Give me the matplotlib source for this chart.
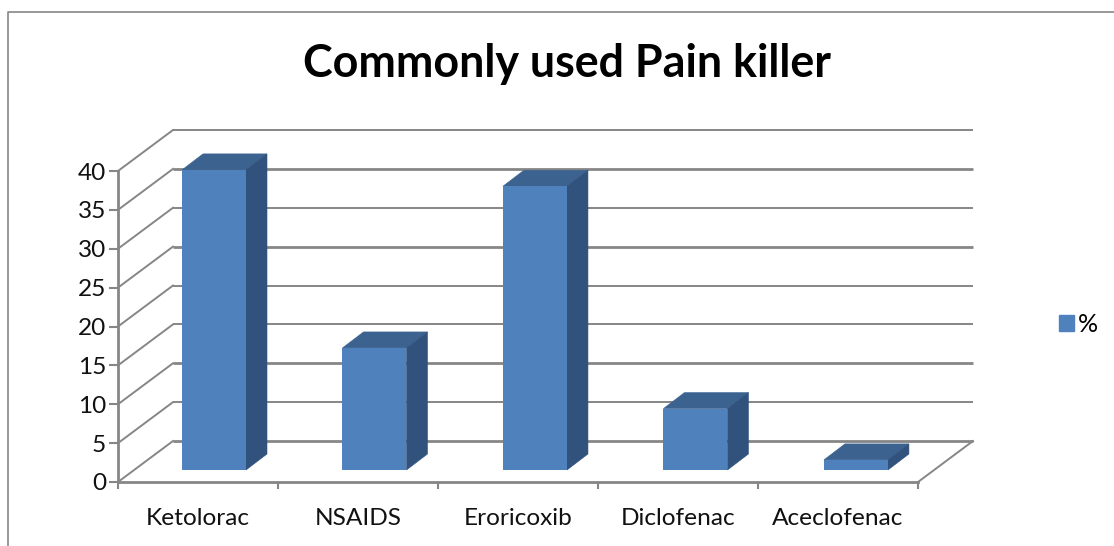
import matplotlib
matplotlib.use("Agg")
import matplotlib.pyplot as plt
from matplotlib.patches import Patch
from matplotlib.transforms import Affine2D

categories = ["Ketolorac", "NSAIDS", "Eroricoxib", "Diclofenac", "Aceclofenac"]
values = [38.6, 15.7, 36.5, 7.9, 1.3]
yticks = [0, 5, 10, 15, 20, 25, 30, 35, 40]
thick = [0, 10, 25, 35]

W, H = 1114, 546
GRID = "#868686"
FRONT = "#4f81bd"
TOP = "#3c6290"
SIDE = "#30527c"

plt.rcParams["font.family"] = ["Lato", "DejaVu Sans"]

fig = plt.figure(figsize=(W / 100, H / 100), dpi=100)
ax = fig.add_axes([118 / W, (H - 482) / H, 800 / W, 311 / H])
ax.set_xlim(0, len(categories))
ax.set_ylim(0, 40)
ax.patch.set_visible(False)


def depth(dx, dy):
    # shift in pixels, gives the fake 3D look
    return ax.transData + Affine2D().translate(dx, dy)


back = depth(55, 41)
n = len(categories)

# walls
for v in yticks:
    lw = 2.0 if v in thick else 1.4
    ax.plot([0, n], [v, v], color=GRID, lw=lw, transform=back, clip_on=False, solid_capstyle="butt", zorder=1)
    x0, y0 = ax.transData.transform((0, v))
    fig.add_artist(plt.Line2D([x0 / W, (x0 + 55) / W], [y0 / H, (y0 + 41) / H], color=GRID, lw=1.4))
x0, y0 = ax.transData.transform((n, 0))
fig.add_artist(plt.Line2D([x0 / W, (x0 + 55) / W], [y0 / H, (y0 + 41) / H], color=GRID, lw=1.4))

# bars
width = 0.4
xpos = [i * 1.003 + 0.5 for i in range(n)]
ax.bar(xpos, values, width=width, color=FRONT, transform=depth(16, 12), clip_on=False, zorder=4)
# top and side faces go 21 px right and 16 px up from the front face
inv = ax.transData.inverted()
for x, v in zip(xpos, values):
    l, r = x - width / 2, x + width / 2
    (lx, ty), (rx, by) = ax.transData.transform([(l, v), (r, 0)])
    d = inv.transform([(lx + 21, ty + 16), (rx + 21, ty + 16), (rx + 21, by + 16)])
    ax.fill([l, r, d[1][0], d[0][0]], [v, v, d[1][1], d[0][1]], color=TOP, lw=0.4, transform=depth(16, 12), clip_on=False, zorder=3)
    ax.fill([r, d[1][0], d[2][0], r], [v, d[1][1], d[2][1], 0], color=SIDE, lw=0.4, transform=depth(16, 12), clip_on=False, zorder=3)

# axes
for s in ["top", "right"]:
    ax.spines[s].set_visible(False)
for s in ["left", "bottom"]:
    ax.spines[s].set_color(GRID)
    ax.spines[s].set_linewidth(2)
ax.set_yticks(yticks)
ax.set_xticks(range(n + 1))
ax.set_xticklabels([])
ax.set_xticks([i + 0.5 for i in range(n)], categories, minor=True)
ax.tick_params(axis="x", which="major", length=5, width=1.5, color=GRID)
ax.tick_params(axis="x", which="minor", length=0, pad=19, labelsize=17.6, labelcolor="#111111")
ax.tick_params(axis="y", length=6.5, width=1.5, color=GRID, pad=2, labelsize=17.6, labelcolor="#111111")

fig.text(567 / W, 1 - 64 / H, "Commonly used Pain killer", ha="center", va="center", fontsize=32.3, fontweight="bold", color="black")

fig.legend(handles=[Patch(color=FRONT, label="%")], loc="center left", bbox_to_anchor=(1059 / W, 1 - 324 / H),
           frameon=False, fontsize=18, handlelength=0.6, handleheight=0.6, handletextpad=0.15, borderpad=0, borderaxespad=0)

# chart border
fig.add_artist(plt.Line2D([7.5 / W, 7.5 / W, 1], [0, 1 - 12 / H, 1 - 12 / H], color=GRID, lw=1.2))

fig.savefig("out.png", dpi=100)
